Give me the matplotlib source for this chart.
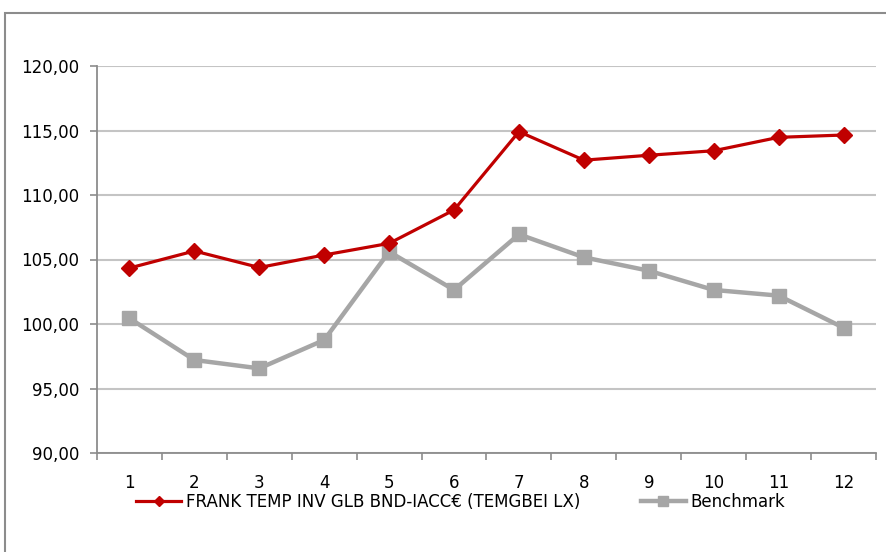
import matplotlib
matplotlib.use('Agg')
import matplotlib.pyplot as plt
from matplotlib.patches import Rectangle
from matplotlib.ticker import FuncFormatter, FixedLocator

# data
months = list(range(1, 13))
fund = [104.34, 105.66, 104.38, 105.35, 106.25, 108.84,
        114.91, 112.70, 113.08, 113.43, 114.47, 114.65]
bench = [100.44, 97.21, 96.56, 98.76, 105.60, 102.64,
         106.95, 105.17, 104.13, 102.64, 102.20, 99.71]
fund_name = 'FRANK TEMP INV GLB BND-IACC€ (TEMGBEI LX)'
bench_name = 'Benchmark'

plt.rcParams['font.family'] = ['DejaVu Sans']

fig = plt.figure(figsize=(8.87, 5.52), dpi=100)
ax = fig.add_axes([97/887, 1-453/552, 779/887, 387/552])

# outer chart frame
fig.patches.append(Rectangle((5/887, -0.1), 1.2, 1-13/552+0.1,
                             transform=fig.transFigure, fill=False,
                             edgecolor='#8c8c8c', linewidth=1.5))

ax.plot(months, fund, color='#C00000', linewidth=2.3, marker='D',
        markersize=8, label=fund_name, zorder=4)
ax.plot(months, bench, color='#A6A6A6', linewidth=3.2, marker='s',
        markersize=10, label=bench_name, zorder=3)

ax.set_xlim(0.5, 12.5)
ax.set_ylim(90, 120)
ax.set_yticks([90, 95, 100, 105, 110, 115, 120])
ax.yaxis.set_major_formatter(FuncFormatter(lambda v, p: ('%.2f' % v).replace('.', ',')))
ax.yaxis.grid(True, color='#c4c4c4', linewidth=1.5)
ax.set_axisbelow(True)

ax.set_xticks(months)
ax.xaxis.set_minor_locator(FixedLocator([i + 0.5 for i in range(0, 13)]))
ax.tick_params(axis='x', which='major', length=0, pad=15, labelsize=12)
ax.tick_params(axis='x', which='minor', length=5, color='#8c8c8c', width=1.2)
ax.tick_params(axis='y', length=5, color='#8c8c8c', width=1.2, labelsize=12, pad=8)

for s in ['top', 'right']:
    ax.spines[s].set_visible(False)
for s in ['left', 'bottom']:
    ax.spines[s].set_color('#8c8c8c')
    ax.spines[s].set_linewidth(1.3)

fig.legend(loc='center', bbox_to_anchor=(461/887, 1-502/552), ncol=2,
           frameon=False, fontsize=12, handlelength=2.7, handletextpad=0.3,
           columnspacing=3.6, markerscale=0.7, borderpad=0.1)

fig.savefig('out.png', dpi=100)
